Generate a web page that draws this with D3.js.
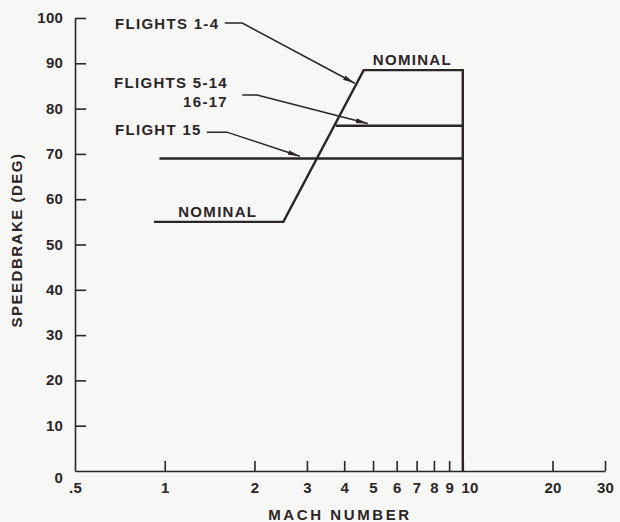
<!DOCTYPE html>
<html><head><meta charset="utf-8">
<script src="https://cdn.jsdelivr.net/npm/d3@7"></script>
<style>
body{margin:0;background:#f7f7f6}
text{font-family:"Liberation Sans",Arial,sans-serif;font-weight:bold;fill:#2b2527}
</style>
</head><body><svg id="c" width="620" height="522"></svg>
<script>
// ---- data ----
const xTickValues = [0.5,1,2,3,4,5,6,7,8,9,10,20,30];
const xTickLabels = [".5","1","2","3","4","5","6","7","8","9","10","20","30"];
const yTickValues = [0,10,20,30,40,50,60,70,80,90,100];
const yTickLabels = ["0","10","20","30","40","50","60","70","80","90","100"];

const nominalMach = [0.92,2.5,4.65,10,10];
const nominalDeg  = [55,55,88.5,88.5,0];
const flight15Mach = [0.96,10];
const flight15Deg  = [69,69];
const flights5Mach = [3.75,10];
const flights5Deg  = [76.2,76.2];

const annotLabels = [["FLIGHTS 1-4"],["FLIGHTS 5-14","16-17"],["FLIGHT 15"],["NOMINAL"],["NOMINAL"]];
const annotMach   = [0.681,1.63,0.681,1.11,4.99];
const annotDeg    = [[97.6],[84.5,80.4],[74.2],[56.1],[89.6]];
const annotAnchor = ["start","end","start","start","start"];
const leaderMach  = [[1.59,1.82,4.34],[1.82,2.04,4.8],[1.385,1.617,2.84],null,null];
const leaderDeg   = [[98.9,98.9,85.6],[83.0,83.0,76.7],[74.8,74.8,69.5],null,null];

// ---- chart ----
const ink = "#2b2527";
const svg = d3.select("#c");
const x = d3.scaleLog().domain([0.5,30]).range([75,605]);
const y = d3.scaleLinear().domain([0,100]).range([471,18]);

svg.append("defs").append("marker")
  .attr("id","arr").attr("viewBox","0 0 12 6").attr("refX",12).attr("refY",3)
  .attr("markerWidth",12).attr("markerHeight",6).attr("markerUnits","userSpaceOnUse")
  .attr("orient","auto")
  .append("path").attr("d","M0,0.6 L12,3 L0,5.4 Z").attr("fill",ink);

// y axis
const ya = svg.append("g").attr("transform",`translate(${x(0.5)},0)`)
  .call(d3.axisLeft(y).tickValues(yTickValues).tickFormat((d,i)=>yTickLabels[i])
        .tickSize(-11).tickSizeOuter(0).tickPadding(12));
ya.selectAll("text").style("font-size","15px").style("letter-spacing","0.2px")
  .attr("dy",d=> d===0 ? "0.75em" : "0.3em");
ya.selectAll(".tick").filter(d=>d===0).select("line").remove();

// x axis
const xa = svg.append("g").attr("transform",`translate(0,${y(0)})`)
  .call(d3.axisBottom(x).tickValues(xTickValues).tickFormat((d,i)=>xTickLabels[i])
        .tickSize(-10).tickSizeOuter(0).tickPadding(11));
xa.selectAll("text").style("font-size","15px").style("letter-spacing","0.2px")
  .attr("dx",d=> d===10 ? "0.45em" : 0);
xa.selectAll(".tick").filter(d=>d===0.5).select("line").remove();

svg.selectAll(".domain, .tick line").attr("stroke",ink).attr("stroke-width",1.6);

// series
const line = d3.line().x(d=>x(d[0])).y(d=>y(d[1]));
const series = [
  {mach:nominalMach, deg:nominalDeg},
  {mach:flight15Mach, deg:flight15Deg},
  {mach:flights5Mach, deg:flights5Deg}
];
series.forEach(s=>{
  svg.append("path").datum(s.mach.map((m,i)=>[m,s.deg[i]]))
    .attr("d",line).attr("fill","none").attr("stroke",ink)
    .attr("stroke-width",2.4).attr("stroke-linejoin","miter");
});

// annotations
annotLabels.forEach((lines,i)=>{
  lines.forEach((t,j)=>{
    svg.append("text").attr("x",x(annotMach[i])).attr("y",y(annotDeg[i][j]))
      .attr("text-anchor",annotAnchor[i])
      .style("font-size","15px").style("letter-spacing","1.3px").text(t);
  });
  if(leaderMach[i]){
    svg.append("path").datum(leaderMach[i].map((m,k)=>[m,leaderDeg[i][k]]))
      .attr("d",line).attr("fill","none").attr("stroke",ink).attr("stroke-width",1.5)
      .attr("marker-end","url(#arr)");
  }
});

// axis titles
svg.append("text").attr("x",340).attr("y",520).attr("text-anchor","middle")
  .style("font-size","15px").style("letter-spacing","2.6px").text("MACH NUMBER");
svg.append("text").attr("transform","translate(22,240) rotate(-90)").attr("text-anchor","middle")
  .style("font-size","15px").style("letter-spacing","1.5px").text("SPEEDBRAKE (DEG)");
</script>
</body></html>
